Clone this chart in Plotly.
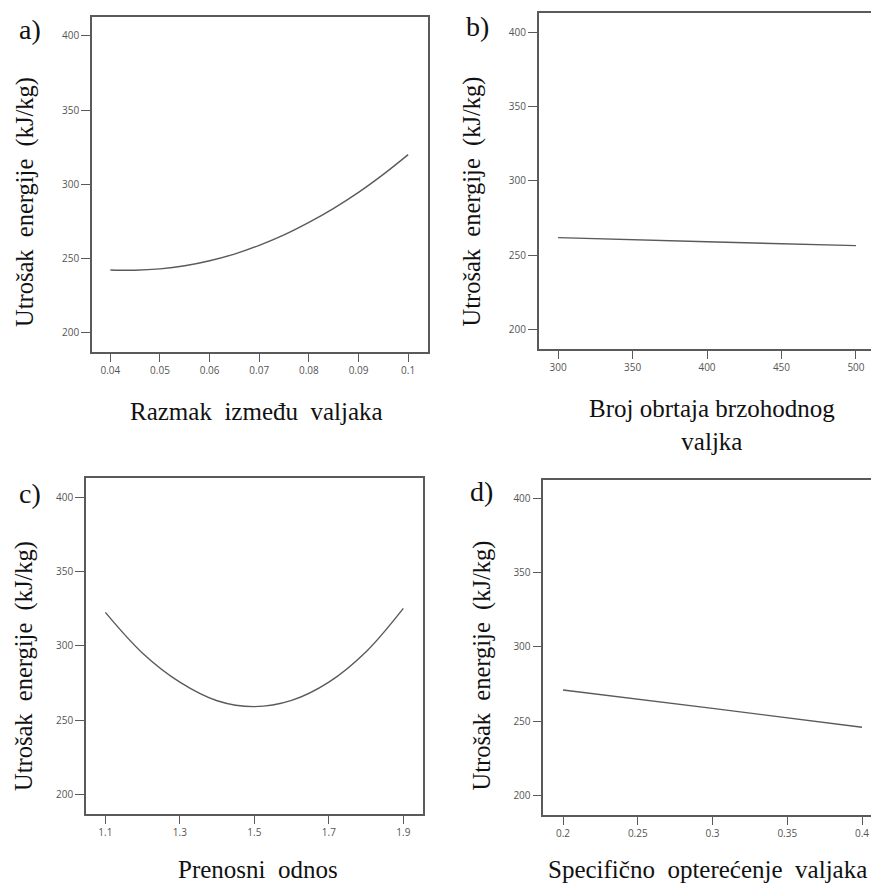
import plotly.graph_objects as go

W, H = 871, 883

# ---- data ----
a_x = [0.04, 0.045, 0.05, 0.055, 0.06, 0.065, 0.07, 0.075, 0.08, 0.085, 0.09, 0.095, 0.10]
a_y = [242.4, 242.2, 243.1, 245.2, 248.6, 253.1, 259.0, 266.0, 274.4, 283.9, 294.6, 306.7, 320.0]
b_x = [300, 400, 500]
b_y = [261.7, 258.9, 256.3]
c_x = [1.1, 1.2, 1.3, 1.4, 1.5, 1.6, 1.7, 1.8, 1.9]
c_y = [322.5, 295.0, 275.5, 263.0, 259.0, 263.2, 275.5, 296.0, 325.2]
d_x = [0.2, 0.3, 0.4]
d_y = [271.1, 258.7, 246.0]

y_ticks = [200, 250, 300, 350, 400]
a_ticks = [0.04, 0.05, 0.06, 0.07, 0.08, 0.09, 0.1]
a_ticktext = ["0.04", "0.05", "0.06", "0.07", "0.08", "0.09", "0.1"]
b_ticks = [300, 350, 400, 450, 500]
c_ticks = [1.1, 1.3, 1.5, 1.7, 1.9]
c_ticktext = ["1.1", "1.3", "1.5", "1.7", "1.9"]
d_ticks = [0.2, 0.25, 0.3, 0.35, 0.4]
d_ticktext = ["0.2", "0.25", "0.3", "0.35", "0.4"]

y_title = "Utrošak  energije  (kJ/kg)"
x_titles = ["Razmak  između  valjaka", "Broj obrtaja brzohodnog<br>valjka",
            "Prenosni  odnos", "Specifično  opterećenje  valjaka"]
panel_labels = ["a)", "b)", "c)", "d)"]

LINE = "#5a5a5a"
SERIF = "Liberation Serif, Times New Roman, serif"

def px(x):
    return x / W

def py(y):
    return 1 - y / H

# panel geometry (pixels): left, right, top, bottom
panels = [
    dict(l=92, r=428, t=17, b=352, xr=[0.0363, 0.104], yr=[187.2, 412.6], mirror=True),
    dict(l=538.7, r=871, t=13.3, b=349, xr=[287.0, 510.1], yr=[186.7, 412.8], mirror=False),
    dict(l=86, r=422.7, t=478.3, b=814, xr=[1.048, 1.952], yr=[186.7, 412.8], mirror=True),
    dict(l=543.3, r=871, t=480, b=815, xr=[0.1868, 0.406], yr=[187.0, 412.3], mirror=False),
]
series = [(a_x, a_y), (b_x, b_y), (c_x, c_y), (d_x, d_y)]
xticks = [(a_ticks, a_ticktext), (b_ticks, [str(v) for v in b_ticks]),
          (c_ticks, c_ticktext), (d_ticks, d_ticktext)]

fig = go.Figure()
layout = dict(width=W, height=H, margin=dict(l=0, r=0, t=0, b=0),
              paper_bgcolor="white", plot_bgcolor="white", showlegend=False)

tickfont = dict(family="Open Sans, sans-serif", size=10, color="#555555")

for i, (p, (xs, ys), (tv, tt)) in enumerate(zip(panels, series, xticks)):
    n = "" if i == 0 else str(i + 1)
    fig.add_trace(go.Scatter(x=xs, y=ys, mode="lines",
                             line=dict(color=LINE, width=1.4, shape="spline"),
                             xaxis="x" + n, yaxis="y" + n, hoverinfo="skip"))
    layout["xaxis" + n] = dict(
        domain=[px(p["l"]), px(p["r"])], range=p["xr"], anchor="y" + n,
        tickvals=tv, ticktext=tt, ticks="outside", ticklen=8, tickwidth=1.2,
        tickcolor=LINE, showline=True, linecolor=LINE, linewidth=1.5,
        mirror=True, showgrid=False, zeroline=False, tickfont=tickfont)
    layout["yaxis" + n] = dict(
        domain=[py(p["b"]), py(p["t"])], range=p["yr"], anchor="x" + n,
        tickvals=y_ticks, ticks="outside", ticklen=9, tickwidth=1.2,
        tickcolor=LINE, showline=True, linecolor=LINE, linewidth=1.5,
        mirror=p["mirror"], showgrid=False, zeroline=False, tickfont=tickfont)

fig.update_layout(**layout)

ann = []
# panel letters
for lab, (x, y) in zip(panel_labels, [(30, 29), (477, 27), (30, 493), (481, 492)]):
    ann.append(dict(text=lab, x=px(x), y=py(y), xref="paper", yref="paper",
                    showarrow=False, xanchor="center", yanchor="middle",
                    font=dict(family=SERIF, size=28, color="#111111")))
# y titles
for (x, y) in [(25, 202), (471.5, 202), (24, 666), (481.5, 666)]:
    ann.append(dict(text=y_title, x=px(x), y=py(y), xref="paper", yref="paper",
                    showarrow=False, xanchor="center", yanchor="middle", textangle=-90,
                    font=dict(family=SERIF, size=24.5, color="#111111")))
# x titles
for t, (x, y) in zip(x_titles, [(256.5, 411), (711.5, 425), (258, 869), (707.5, 869)]):
    ann.append(dict(text=t, x=px(x), y=py(y), xref="paper", yref="paper",
                    showarrow=False, xanchor="center", yanchor="middle",
                    font=dict(family=SERIF, size=25, color="#111111")))
fig.update_layout(annotations=ann)

fig.write_html("out.html", config={"displayModeBar": False},
               post_script="document.body.style.margin='0';document.body.style.overflow='hidden';")
